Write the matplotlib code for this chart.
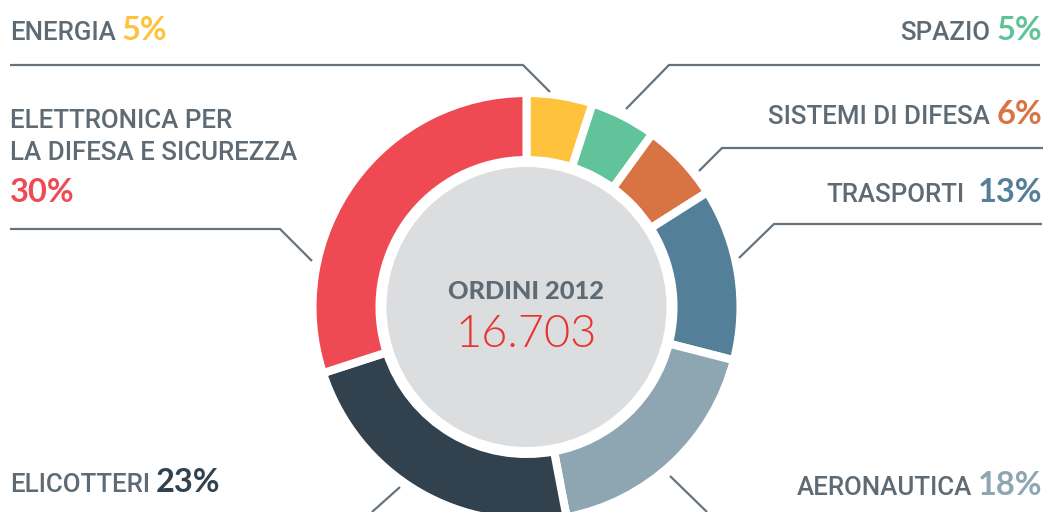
import os
import matplotlib
matplotlib.use('Agg')
import matplotlib.pyplot as plt
from matplotlib.patches import Circle
from matplotlib import font_manager as fm

# ---------------- data ----------------
categories = ['ENERGIA', 'SPAZIO', 'SISTEMI DI DIFESA', 'TRASPORTI',
              'AERONAUTICA', 'ELICOTTERI', 'ELETTRONICA PER\nLA DIFESA E SICUREZZA']
shares = [5, 5, 6, 13, 18, 23, 30]
pct_labels = ['5%', '5%', '6%', '13%', '18%', '23%', '30%']
colors = ['#FEC23C', '#61C39A', '#D87444', '#537F98', '#8DA6B1', '#32414E', '#EF4A53']
total_label = 'ORDINI 2012'
total_value = '16.703'


# ---------------- fonts ----------------
def font(basename, family, weight, size):
    for f in fm.fontManager.ttflist:
        if os.path.basename(f.fname) == basename:
            return fm.FontProperties(fname=f.fname, size=size)
    return fm.FontProperties(family=family, weight=weight, size=size)


F_LABEL = font('Roboto-Medium.ttf', 'Roboto', 'medium', 18.6)
F_PCT = font('Lato-Bold.ttf', 'Lato', 'bold', 23.5)
F_TITLE = font('Lato-Black.ttf', 'Lato', 'black', 18.3)
F_VALUE = font('Lato-Light.ttf', 'Lato', 'light', 32.5)

# ---------------- layout ----------------
W, H = 1047, 512
LABEL_C = '#5E6B75'
LINE_C = '#66737D'

fig = plt.figure(figsize=(W / 100, H / 100), dpi=100)
fig.patch.set_facecolor('white')
ax = fig.add_axes([0, 0, 1, 1])


def Y(p):
    return H - p


cx, cy = 526.5, Y(307)
ax.pie(shares, colors=colors, startangle=90, counterclock=False,
       radius=214, center=(cx, cy),
       wedgeprops=dict(width=67, edgecolor='white', linewidth=5.8))
ax.add_patch(Circle((cx, cy), 140, facecolor='#DCDDDF', edgecolor='none', zorder=3))
ax.set_xlim(0, W)
ax.set_ylim(0, H)
ax.set_aspect('auto')
ax.axis('off')

ax.text(cx, Y(299), total_label, ha='center', va='baseline', color=LABEL_C,
        fontproperties=F_TITLE, zorder=4)
ax.text(cx, Y(347), total_value, ha='center', va='baseline', color='#E8322B',
        fontproperties=F_VALUE, zorder=4)

# leader lines (pixel coords)
leaders = [
    [(10, 65), (523, 65), (550, 92)],
    [(1040, 65), (669, 65), (626, 109)],
    [(1043, 148), (722, 148), (699, 171)],
    [(1042, 224), (774, 224), (739, 258)],
    [(670, 476), (707, 512)],
    [(400, 487), (372, 512)],
    [(10, 229), (280, 229), (312, 261)],
]
for pts in leaders:
    ax.plot([p[0] for p in pts], [Y(p[1]) for p in pts], color=LINE_C,
            lw=1.6, solid_capstyle='butt', solid_joinstyle='miter')

lab_kw = dict(color=LABEL_C, fontproperties=F_LABEL, va='baseline')
pct_kw = dict(fontproperties=F_PCT, va='baseline')

renderer = fig.canvas.get_renderer()

# side, x, baseline, gap
placement = {
    0: ('left', 10, 40, 6),
    1: ('right', 1042, 40, 6),
    2: ('right', 1042, 124, 6),
    3: ('right', 1042, 202, 13),
    4: ('right', 1042, 495, 5),
    5: ('left', 10, 492, 6),
}
for i, (side, x, base, gap) in placement.items():
    if side == 'left':
        t = ax.text(x, Y(base), categories[i], ha='left', **lab_kw)
        bb = t.get_window_extent(renderer)
        ax.text(bb.x1 + gap, Y(base), pct_labels[i], ha='left', color=colors[i], **pct_kw)
    else:
        t = ax.text(x, Y(base), pct_labels[i], ha='right', color=colors[i], **pct_kw)
        bb = t.get_window_extent(renderer)
        ax.text(bb.x0 - gap, Y(base), categories[i], ha='right', **lab_kw)

# multi-line label (elettronica)
lines = categories[6].split('\n')
for k, ln in enumerate(lines):
    ax.text(10, Y(128 + 32 * k), ln, ha='left', **lab_kw)
ax.text(10, Y(202), pct_labels[6], ha='left', color=colors[6], **pct_kw)

fig.savefig('out.png', dpi=100, facecolor='white')
